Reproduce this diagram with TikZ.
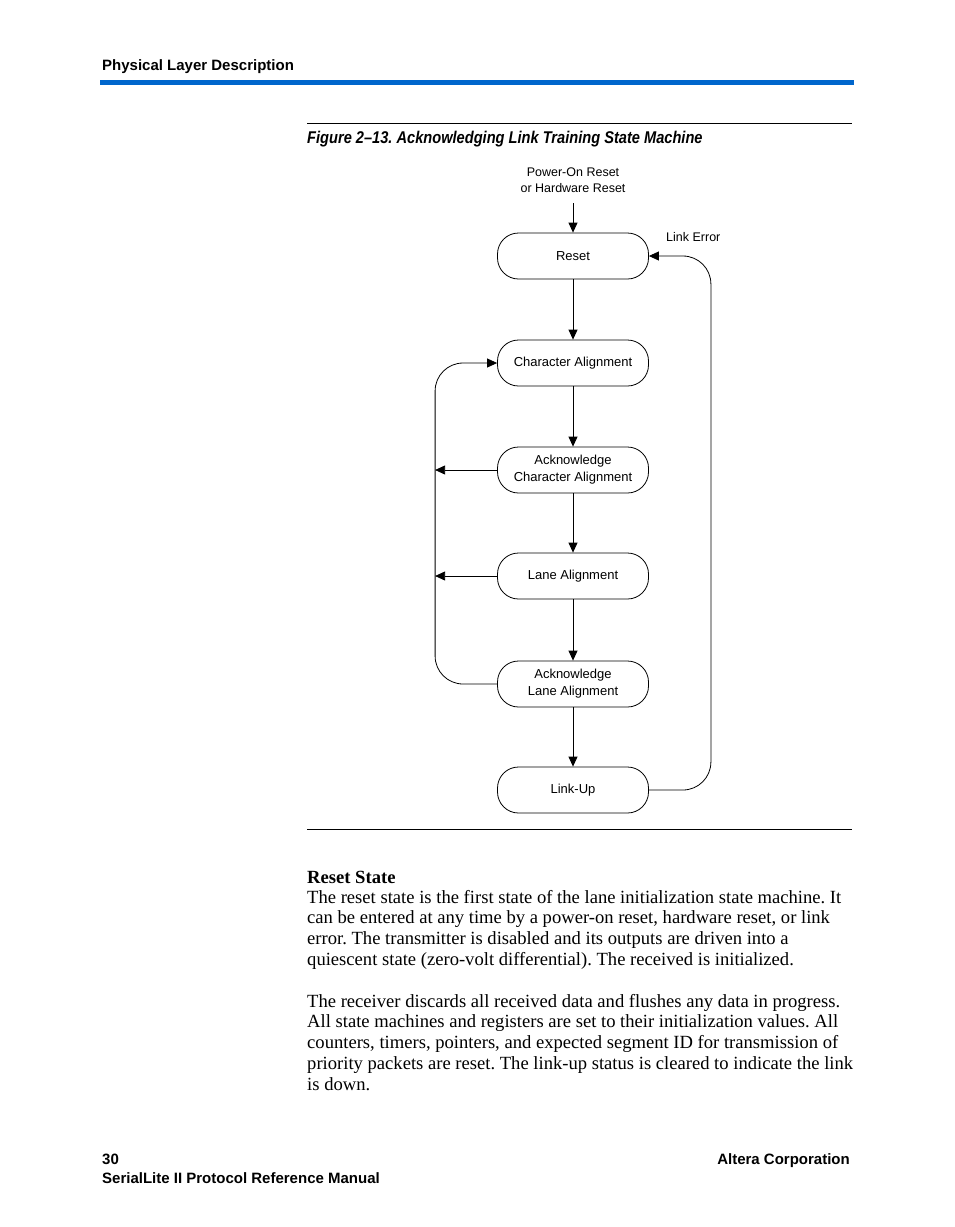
\documentclass[tikz,border=0pt]{standalone}
\usepackage{fontspec}
\setmainfont{Liberation Serif}
\setsansfont{Liberation Sans}
\usetikzlibrary{arrows.meta}
\definecolor{alterablue}{RGB}{0,102,204}
\frenchspacing
\begin{document}
\begin{tikzpicture}[x=1pt,y=-1pt,
  state/.style={draw, line width=0.8pt, rounded corners=21pt, minimum width=151pt, minimum height=46pt,
    align=center, inner sep=0pt, font=\sffamily\fontsize{13}{17}\selectfont},
  conn/.style={line width=0.8pt, -{Triangle[length=10pt,width=9pt]}},
  loop/.style={conn, rounded corners=28pt},
  stub/.style={conn},
  lbl/.style={inner sep=0pt, align=center, font=\sffamily\fontsize{12.5}{16}\selectfont},
  hdr/.style={anchor=base west, inner sep=0pt, font=\sffamily\bfseries\fontsize{15}{18}\selectfont},
  bodytxt/.style={anchor=base west, inner sep=0pt, font=\fontsize{18.6}{20.8}\selectfont},
  thinrule/.style={line width=0.9pt}
]
\useasboundingbox (0,0) rectangle (954,1227);
% header
\node[hdr] (hdrtext) at (102,70) {Physical Layer Description};
\fill[alterablue] (100,80) rectangle (854,85);
% figure frame
\draw[thinrule] (307,123) -- (852,123);
\node[hdr, font=\sffamily\bfseries\itshape\fontsize{17}{20}\selectfont] (caption) at (307,143)
  {\scalebox{0.86}[1]{Figure 2–13. Acknowledging Link Training State Machine}};
\draw[thinrule] (307,829) -- (852,829);
% states
\node[state] (reset) at (573,256) {Reset};
\node[state] (charalign) at (573,363) {Character Alignment};
\node[state] (ackchar) at (573,470) {Acknowledge\\Character Alignment};
\node[state] (lanealign) at (573,576) {Lane Alignment};
\node[state] (acklane) at (573,684) {Acknowledge\\Lane Alignment};
\node[state] (linkup) at (573,790) {Link-Up};
% labels
\node[lbl] (por) at (573,180) {Power-On Reset\\or Hardware Reset};
\node[lbl, anchor=west] (linkerr) at (666,237) {Link Error};
\coordinate (porend) at (573,203);
% connectors
\draw[conn] (porend) -- (reset.north);
\draw[conn] (reset) -- (charalign);
\draw[conn] (charalign) -- (ackchar);
\draw[conn] (ackchar) -- (lanealign);
\draw[conn] (lanealign) -- (acklane);
\draw[conn] (acklane) -- (linkup);
\draw[loop] (linkup.east) -- ++(62,0) |- (reset.east);
\draw[loop] (acklane.west) -- ++(-62,0) |- (charalign.west);
\draw[stub] (ackchar.west) -- ++(-62,0);
\draw[stub] (lanealign.west) -- ++(-62,0);
% body text
\node[bodytxt, font=\bfseries\fontsize{18.6}{20.8}\selectfont] (title) at (307,883) {Reset State};
\node[bodytxt] (l1) at (307,903) {The reset state is the first state of the lane initialization state machine. It};
\node[bodytxt] (l2) at (307,923.8) {can be entered at any time by a power-on reset, hardware reset, or link};
\node[bodytxt] (l3) at (307,944.6) {error. The transmitter is disabled and its outputs are driven into a};
\node[bodytxt] (l4) at (307,965.4) {quiescent state (zero-volt differential). The received is initialized.};
\node[bodytxt] (l5) at (307,1007) {The receiver discards all received data and flushes any data in progress.};
\node[bodytxt] (l6) at (307,1027.8) {All state machines and registers are set to their initialization values. All};
\node[bodytxt] (l7) at (307,1048.6) {counters, timers, pointers, and expected segment ID for transmission of};
\node[bodytxt] (l8) at (307,1069.4) {priority packets are reset. The link-up status is cleared to indicate the link};
\node[bodytxt] (l9) at (307,1090.2) {is down.};
% footer
\node[hdr] (pagenum) at (102,1164) {30};
\node[hdr] (manual) at (102,1183) {SerialLite II Protocol Reference Manual};
\node[hdr, anchor=base east] (corp) at (850,1164) {Altera Corporation};
\end{tikzpicture}
\end{document}
